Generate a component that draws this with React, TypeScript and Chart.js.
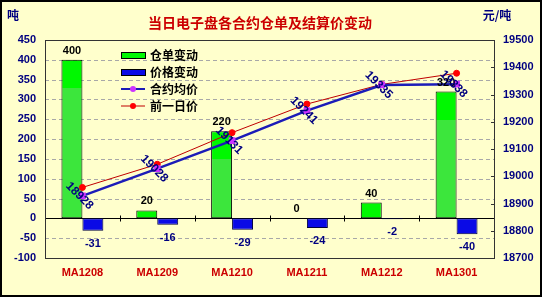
import React, { useEffect, useRef } from "react";
import { Chart, registerables } from "chart.js";

Chart.register(...registerables);

const categories = ["MA1208", "MA1209", "MA1210", "MA1211", "MA1212", "MA1301"];
const warrantChange = [400, 20, 220, 0, 40, 320];
const priceChange = [-31, -16, -29, -24, -2, -40];
const avgPrice = [18928, 19028, 19131, 19241, 19335, 19338];
const prevPrice = [18959, 19044, 19160, 19265, 19337, 19378];

const TITLE = "当日电子盘各合约仓单及结算价变动";
const LEGEND_NAMES = ["仓单变动", "价格变动", "合约均价", "前一日价"];

const BG = "#FFFFCC";
const NAVY = "#000080";
const GREEN_TOP = "#00F800";
const GREEN_LOW = "#3CE63C";
const BLUE = "#0A0AE6";
const AVG_LINE = "#1C1CB8";
const AVG_PT = "#CC33FF";
const PREV_LINE = "#C00000";
const PREV_PT = "#FF0000";
const NUM_FONT = "bold 11px 'Liberation Sans', Arial, sans-serif";
const CJK_FONT = "'Noto Sans CJK SC', sans-serif";

const deco = {
  id: "deco",
  beforeDraw(chart: any) {
    const c = chart.ctx;
    c.save();
    c.fillStyle = BG;
    c.fillRect(0, 0, chart.width, chart.height);
    c.restore();
  },
  beforeDatasetsDraw(chart: any) {
    const c = chart.ctx;
    const a = chart.chartArea;
    const y = chart.scales.y;
    const y1 = chart.scales.y1;
    const x = chart.scales.x;
    c.save();
    // dashed grid
    c.strokeStyle = "#A8A8A8";
    c.lineWidth = 1;
    c.setLineDash([4, 3]);
    y.ticks.forEach((t: any) => {
      if (t.value === 0 || t.value === y.max || t.value === y.min) return;
      const py = Math.round(y.getPixelForValue(t.value)) + 0.5;
      c.beginPath();
      c.moveTo(a.left, py);
      c.lineTo(a.right, py);
      c.stroke();
    });
    c.setLineDash([]);
    // zero line
    const zy = Math.round(y.getPixelForValue(0)) + 0.5;
    c.strokeStyle = "#000";
    c.beginPath();
    c.moveTo(a.left, zy);
    c.lineTo(a.right, zy);
    c.stroke();
    // category boundary ticks on zero line
    const n = categories.length;
    const step = (a.right - a.left) / n;
    for (let i = 1; i < n; i++) {
      const px = Math.round(a.left + step * i) + 0.5;
      c.beginPath();
      c.moveTo(px, zy - 3);
      c.lineTo(px, zy + 3);
      c.stroke();
    }
    // plot border
    c.strokeStyle = "#333";
    c.strokeRect(Math.round(a.left) + 0.5, Math.round(a.top) + 0.5, Math.round(a.right - a.left), Math.round(a.bottom - a.top));
    // right axis inward ticks
    y1.ticks.forEach((t: any) => {
      const py = Math.round(y1.getPixelForValue(t.value)) + 0.5;
      c.beginPath();
      c.moveTo(a.right - 3, py);
      c.lineTo(a.right, py);
      c.stroke();
    });
    c.restore();
  },
  afterDatasetsDraw(chart: any) {
    const c = chart.ctx;
    c.save();
    c.textAlign = "center";
    c.textBaseline = "middle";
    c.font = NUM_FONT;
    // green bar labels
    const m0 = chart.getDatasetMeta(0);
    m0.data.forEach((el: any, i: number) => {
      c.fillStyle = "#000";
      c.fillText(String(warrantChange[i]), el.x, el.y - 9);
    });
    // blue bar labels
    const m1 = chart.getDatasetMeta(1);
    m1.data.forEach((el: any, i: number) => {
      c.fillStyle = NAVY;
      c.fillText(String(priceChange[i]), el.x, el.y + 13);
    });
    // avg price rotated labels
    const m2 = chart.getDatasetMeta(2);
    m2.data.forEach((el: any, i: number) => {
      c.save();
      c.translate(el.x - 3, el.y);
      c.rotate(Math.PI / 4);
      c.fillStyle = NAVY;
      c.font = "bold 12px 'Liberation Sans', Arial, sans-serif";
      c.fillText(String(avgPrice[i]), 0, 0);
      c.restore();
    });
    // title
    c.fillStyle = "#CC0000";
    c.font = "bold 14px " + CJK_FONT;
    c.fillText(TITLE, 260, 23);
    // units
    c.fillStyle = NAVY;
    c.font = "bold 12px " + CJK_FONT;
    c.fillText("吨", 13, 15);
    c.fillText("元/吨", 497, 15);
    // legend
    const lx = 121;
    const lw = 24;
    const rows = [55, 72, 89, 106];
    c.textAlign = "left";
    c.font = "bold 12px " + CJK_FONT;
    rows.forEach((ry, i) => {
      if (i < 2) {
        c.fillStyle = i === 0 ? GREEN_TOP : BLUE;
        c.fillRect(lx, ry - 3, lw, 6);
        c.strokeStyle = "#000";
        c.lineWidth = 1;
        c.strokeRect(lx + 0.5, ry - 2.5, lw, 6);
      } else {
        c.strokeStyle = i === 2 ? AVG_LINE : PREV_LINE;
        c.lineWidth = i === 2 ? 2 : 1;
        c.beginPath();
        c.moveTo(lx, ry);
        c.lineTo(lx + lw, ry);
        c.stroke();
        c.fillStyle = i === 2 ? AVG_PT : PREV_PT;
        c.beginPath();
        c.arc(lx + lw / 2, ry, 3, 0, Math.PI * 2);
        c.fill();
      }
      c.fillStyle = "#000";
      c.fillText(LEGEND_NAMES[i], 150, ry);
    });
    // outer border
    c.strokeStyle = "#000";
    c.lineWidth = 2;
    c.strokeRect(1, 1, chart.width - 2, chart.height - 2);
    c.restore();
  },
};

export default function App() {
  const ref = useRef<HTMLCanvasElement | null>(null);
  useEffect(() => {
    document.body.style.margin = "0";
    if (!ref.current) return;
    const greenBg = (ctx: any) => {
      const chart = ctx.chart;
      if (!chart.chartArea || !chart.scales.y) return GREEN_TOP;
      const ys = chart.scales.y;
      const v = ctx.raw ?? 0;
      const top = ys.getPixelForValue(v);
      const bottom = ys.getPixelForValue(0);
      const h = Math.max(1, bottom - top);
      const g = chart.ctx.createLinearGradient(0, top, 0, bottom);
      const s = Math.min(1, 28 / h);
      g.addColorStop(0, GREEN_TOP);
      g.addColorStop(s, GREEN_TOP);
      g.addColorStop(Math.min(1, s + 0.001), GREEN_LOW);
      g.addColorStop(1, GREEN_LOW);
      return g;
    };
    const chart = new Chart(ref.current, {
      type: "bar",
      data: {
        labels: categories,
        datasets: [
          {
            type: "bar",
            label: LEGEND_NAMES[0],
            data: warrantChange,
            yAxisID: "y",
            backgroundColor: greenBg,
            borderColor: "#000",
            borderWidth: 1,
            borderSkipped: false,
            order: 2,
          },
          {
            type: "bar",
            label: LEGEND_NAMES[1],
            data: priceChange,
            yAxisID: "y",
            backgroundColor: BLUE,
            borderColor: "#000040",
            borderWidth: 1,
            borderSkipped: false,
            order: 2,
          },
          {
            type: "line",
            label: LEGEND_NAMES[2],
            data: avgPrice,
            yAxisID: "y1",
            borderColor: AVG_LINE,
            borderWidth: 2.5,
            pointBackgroundColor: AVG_PT,
            pointBorderColor: AVG_PT,
            pointRadius: 3,
            pointStyle: "rect",
            tension: 0,
            order: 0,
          },
          {
            type: "line",
            label: LEGEND_NAMES[3],
            data: prevPrice,
            yAxisID: "y1",
            borderColor: PREV_LINE,
            borderWidth: 1,
            pointBackgroundColor: PREV_PT,
            pointBorderColor: PREV_PT,
            pointRadius: 3,
            tension: 0,
            order: 1,
          },
        ] as any,
      },
      options: {
        responsive: false,
        animation: false,
        events: [],
        layout: { padding: { top: 40, left: 0, right: 0, bottom: 0 }, autoPadding: false } as any,
        plugins: { legend: { display: false }, tooltip: { enabled: false }, title: { display: false } },
        datasets: { bar: { categoryPercentage: 0.56, barPercentage: 1 } } as any,
        scales: {
          x: {
            offset: true,
            grid: { display: false, drawTicks: false },
            border: { display: false },
            ticks: { color: "#CC0000", font: { family: "'Liberation Sans', Arial, sans-serif", size: 11, weight: "bold" }, padding: 8 },
            afterFit: (s: any) => { s.height = 39; },
          },
          y: {
            position: "left",
            min: -100,
            max: 450,
            grid: { display: false, drawTicks: false },
            border: { display: false },
            ticks: { stepSize: 50, color: NAVY, font: { family: "'Liberation Sans', Arial, sans-serif", size: 11, weight: "bold" }, padding: 9 },
            afterFit: (s: any) => { s.width = 45; },
          },
          y1: {
            position: "right",
            min: 18700,
            max: 19500,
            grid: { display: false, drawTicks: false },
            border: { display: false },
            ticks: { stepSize: 100, color: NAVY, font: { family: "'Liberation Sans', Arial, sans-serif", size: 11, weight: "bold" }, padding: 9, callback: (v: any) => String(v) },
            afterFit: (s: any) => { s.width = 48; },
          },
        },
      } as any,
      plugins: [deco],
    });
    return () => chart.destroy();
  }, []);
  return (
    <div style={{ width: 542, height: 297 }}>
      <canvas ref={ref} width={542} height={297} style={{ display: "block" }} />
    </div>
  );
}
